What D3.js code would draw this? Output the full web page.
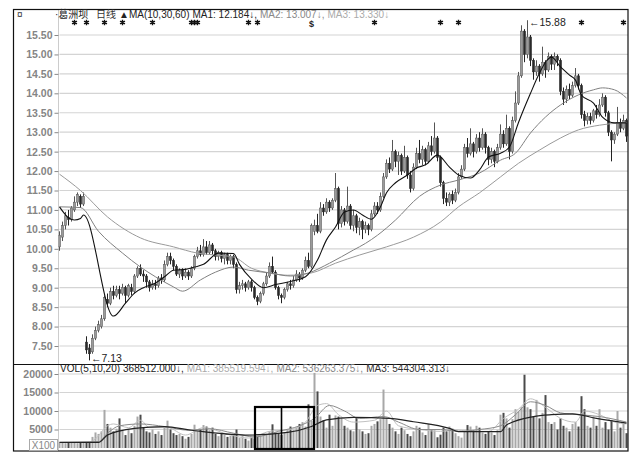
<!DOCTYPE html>
<html><head><meta charset="utf-8">
<script src="https://cdn.jsdelivr.net/npm/d3@7/dist/d3.min.js"></script>
<style>body{margin:0;background:#fff}</style>
</head><body>
<script>
// ---------- DATA ----------
const priceTicks = [7.5,8.0,8.5,9.0,9.5,10.0,10.5,11.0,11.5,12.0,12.5,13.0,13.5,14.0,14.5,15.0,15.5];
const volTicks = [5000,10000,15000,20000];
const priceHeader = ["·葛洲坝","日线","▲MA(10,30,60)","MA1: 12.184↓,","MA2: 13.007↓,","MA3: 13.330↓"];
const volHeader = ["VOL(5,10,20)","368512.000↓,","MA1: 385519.594↓,","MA2: 536263.375↓,","MA3: 544304.313↓"];
// candles: [open, close, high, low]
const candles = [
[10.05,10.35,10.45,9.95],[10.3,10.6,10.7,10.2],[10.6,10.85,10.95,10.5],[10.8,10.75,11.0,10.6],[10.75,11.05,11.1,10.7],
[11.0,11.2,11.35,10.95],[11.2,11.4,11.45,11.1],[11.35,11.15,11.4,11.05],[11.15,11.35,11.45,11.1],[7.6,7.4,7.75,7.3],
[7.45,7.3,7.55,7.13],[7.35,7.7,7.8,7.3],[7.7,7.9,8.0,7.65],[7.9,8.05,8.15,7.85],[8.0,8.2,8.3,7.95],
[8.2,8.75,8.8,8.15],[8.7,8.6,8.85,8.5],[8.6,8.9,9.0,8.55],[8.9,8.8,9.05,8.7],[8.8,8.95,9.05,8.75],
[8.95,8.85,9.05,8.7],[8.85,9.0,9.1,8.8],[9.0,8.8,9.05,8.6],[8.8,9.05,9.1,8.75],[9.0,8.9,9.1,8.8],
[8.9,9.3,9.35,8.85],[9.3,9.5,9.55,9.25],[9.5,9.35,9.6,9.3],[9.35,9.3,9.45,9.15],[9.3,9.15,9.35,9.0],
[9.15,9.0,9.2,8.9],[9.0,9.1,9.2,8.95],[9.1,9.05,9.2,8.95],[9.05,9.25,9.3,9.0],[9.25,9.2,9.35,9.1],
[9.2,9.6,9.7,9.15],[9.6,9.8,9.9,9.55],[9.8,9.7,9.9,9.6],[9.7,9.55,9.75,9.45],[9.55,9.35,9.6,9.3],
[9.35,9.45,9.5,9.25],[9.45,9.3,9.5,9.2],[9.3,9.4,9.5,9.25],[9.4,9.3,9.45,9.2],[9.3,9.5,9.55,9.25],
[9.5,9.8,9.85,9.45],[9.8,9.95,10.05,9.75],[9.95,9.85,10.1,9.8],[9.85,10.05,10.25,9.8],[10.05,9.9,10.2,9.85],
[9.9,10.1,10.2,9.85],[10.1,9.95,10.15,9.85],[9.95,9.8,10.0,9.7],[9.8,9.9,9.95,9.7],[9.9,9.75,9.95,9.65],
[9.75,9.85,9.9,9.6],[9.85,9.7,9.9,9.6],[9.7,9.8,9.85,9.6],[9.8,9.6,9.85,9.5],[9.6,8.95,9.65,8.85],
[8.95,9.05,9.15,8.85],[9.05,9.1,9.2,8.95],[9.1,9.0,9.15,8.9],[9.0,9.15,9.2,8.95],[9.15,9.0,9.2,8.9],
[9.0,8.75,9.05,8.7],[8.75,8.65,8.8,8.55],[8.65,8.85,8.9,8.6],[8.85,9.1,9.15,8.8],[9.1,9.3,9.4,9.05],
[9.3,9.55,9.65,9.25],[9.55,9.4,9.8,9.35],[9.4,9.0,9.45,8.95],[9.0,8.8,9.05,8.7],[8.8,8.75,8.85,8.6],
[8.75,8.95,9.0,8.7],[8.95,9.1,9.15,8.9],[9.1,9.05,9.2,8.95],[9.05,9.2,9.3,9.0],[9.2,9.35,9.45,9.15],
[9.35,9.25,9.4,9.15],[9.25,9.45,9.5,9.2],[9.45,9.7,9.8,9.4],[9.7,9.55,9.9,9.5],[9.55,10.6,10.65,9.5],
[10.45,10.6,10.75,10.35],[10.6,10.45,10.9,10.4],[10.45,11.05,11.2,10.4],[11.05,10.95,11.15,10.85],[10.95,11.2,11.3,10.9],
[11.2,11.05,11.25,10.95],[11.05,11.25,11.3,11.0],[11.25,11.55,11.95,11.2],[11.55,10.65,11.6,10.5],[10.65,11.0,11.1,10.55],
[11.0,10.7,11.05,10.6],[10.7,11.1,11.6,10.65],[11.1,10.6,11.15,10.5],[10.6,10.85,11.0,10.45],[10.85,10.55,10.9,10.4],
[10.55,10.7,10.8,10.35],[10.7,10.5,10.75,10.25],[10.5,10.6,10.7,10.4],[10.6,10.5,10.65,10.35],[10.5,10.9,11.0,10.45],
[10.9,11.1,11.2,10.85],[11.1,11.0,11.2,10.9],[11.0,11.35,11.45,10.95],[11.35,11.85,11.95,11.3],[11.85,12.2,12.3,11.8],
[12.2,12.05,12.35,11.95],[12.05,12.5,12.8,12.0],[12.5,12.25,12.55,12.1],[12.25,12.4,12.5,11.9],[12.4,12.0,12.45,11.9],
[12.0,12.35,12.65,11.95],[12.35,11.9,12.4,11.8],[11.9,11.55,12.0,11.45],[11.55,12.1,12.2,11.5],[12.1,12.45,12.6,12.05],
[12.45,12.3,12.8,12.2],[12.3,12.55,12.65,12.15],[12.55,12.25,12.6,12.15],[12.25,12.65,12.75,12.2],[12.65,12.5,12.9,12.4],
[12.5,12.85,13.25,12.45],[12.85,12.35,12.9,12.25],[12.35,11.7,12.4,11.6],[11.7,11.3,11.75,11.15],[11.3,11.2,11.45,11.1],
[11.2,11.4,11.45,11.1],[11.4,11.25,11.5,11.15],[11.25,11.45,11.55,11.2],[11.45,11.85,11.95,11.4],[11.85,12.05,12.15,11.8],
[12.05,12.6,12.7,12.0],[12.6,12.45,12.85,12.35],[12.45,12.7,13.1,12.4],[12.7,12.5,12.75,12.35],[12.5,12.85,12.95,12.45],
[12.85,12.6,13.0,12.5],[12.6,12.95,13.1,12.55],[12.95,12.6,13.0,12.45],[12.6,12.3,12.65,12.15],[12.3,12.5,12.6,12.2],
[12.5,12.25,12.55,12.1],[12.25,12.6,12.7,12.2],[12.6,12.95,13.2,12.55],[12.95,12.7,13.05,12.6],[12.7,13.1,13.45,12.65],
[13.1,12.5,13.15,12.3],[12.5,13.3,13.4,12.45],[13.3,13.75,14.05,13.25],[13.75,14.45,14.55,13.7],[14.45,15.6,15.75,14.4],
[15.6,15.0,15.65,14.8],[15.0,15.45,15.88,14.9],[15.45,14.85,15.5,14.7],[14.85,14.55,14.9,14.35],[14.55,14.7,14.85,14.45],
[14.7,14.5,14.75,14.3],[14.5,14.8,15.2,14.45],[14.8,14.6,14.85,14.4],[14.6,14.95,15.05,14.55],[14.95,14.75,15.0,14.6],
[14.75,14.95,15.05,14.6],[14.95,14.85,15.0,14.7],[14.85,14.05,14.9,13.95],[14.05,13.85,14.15,13.7],[13.85,14.1,14.2,13.75],
[14.1,13.95,14.25,13.85],[13.95,14.2,14.3,13.9],[14.2,14.45,14.65,14.15],[14.45,14.2,14.5,14.1],[14.2,13.45,14.25,13.35],
[13.45,13.3,13.55,13.15],[13.3,13.4,13.5,13.2],[13.4,13.3,13.5,13.2],[13.3,13.55,13.6,13.25],[13.55,13.45,13.7,13.35],
[13.45,13.7,13.85,13.4],[13.7,13.9,14.0,13.65],[13.9,13.5,13.95,13.4],[13.5,13.0,13.55,12.9],[13.0,12.8,13.05,12.25],
[12.8,12.95,13.0,12.7],[12.95,13.25,13.65,12.9],[13.25,13.1,13.35,13.0],[13.1,13.3,13.45,13.05],[13.3,12.9,13.35,12.75]
];
const volume = [
1400,1500,1300,1600,1400,1500,1300,1400,1500,1600,1500,3000,4200,3800,4500,10300,6500,5500,4500,5200,
8000,4800,3500,5000,4000,6000,8500,9000,5500,4500,4200,5000,3800,4500,3500,5500,7400,5000,4000,3500,
3800,3200,2500,3000,3800,6300,4500,5000,6200,5800,4800,5500,3800,3200,4000,3500,3000,3300,3800,5000,
2800,3200,2500,2000,2800,2600,3000,3400,4000,3800,4500,6400,4200,4000,3500,4200,5000,5800,4800,5500,
6500,7000,5800,11800,7300,20300,15300,8500,7500,5500,9000,6000,8800,8500,8200,6000,5500,4800,4500,8200,
5000,4500,3800,4000,6000,6500,7200,7800,15800,8000,6500,5500,4500,3800,5500,4800,3800,3200,4500,6000,
5500,4200,3500,6500,5000,4800,2900,3600,5500,4500,5800,5200,4000,3200,2800,4500,6200,5800,4800,6000,
5500,4200,3800,4500,4200,3500,4800,9000,9500,8000,5500,7800,10500,9800,11000,19800,11000,10500,8500,13000,
8000,9500,14300,7000,6500,7000,5000,8000,6000,5500,4500,6500,7000,5800,14000,10500,6000,5500,8500,6000,
10500,5500,7000,5000,7500,4500,10000,5500,6500,4000
];
// moving averages: [day index, value]
const ma10 = [[0,11.08],[3,10.8],[5,10.74],[7,10.78],[8,10.87],[18,8.27],[22,8.6],[25,8.86],[28,9.0],[32,9.12],[35,9.28],[38,9.45],[42,9.47],[45,9.53],[48,9.6],[53,9.89],[58,9.88],[60,9.6],[64,9.22],[68,9.0],[72,9.08],[77,9.16],[82,9.28],[86,9.71],[89,10.23],[92,10.56],[95,10.95],[98,11.0],[101,10.87],[104,10.76],[107,11.08],[109,11.44],[112,11.7],[116,11.9],[119,12.08],[122,12.16],[126,12.41],[130,12.1],[133,11.9],[137,11.82],[140,12.03],[143,12.36],[147,12.46],[150,12.62],[153,13.25],[157,14.0],[160,14.52],[162,14.8],[164,14.93],[167,14.68],[170,14.47],[172,14.34],[174,13.95],[178,13.75],[181,13.39],[185,13.24],[189,13.24]];
const ma30 = [[0,11.08],[7,11.06],[13,10.45],[21,9.89],[27,9.53],[32,9.28],[38,9.02],[41,8.91],[47,9.2],[52,9.4],[58,9.53],[63,9.45],[70,9.38],[77,9.3],[83,9.38],[90,9.63],[98,9.97],[102,10.14],[106,10.35],[112,10.74],[120,11.35],[127,11.64],[133,11.77],[140,11.95],[147,12.28],[152,12.46],[157,12.98],[162,13.39],[167,13.7],[173,13.96],[178,14.09],[181,14.14],[185,14.09],[189,13.88]];
const ma60 = [[0,11.92],[7,11.5],[16,10.82],[27,10.28],[38,10.05],[46,9.89],[52,9.84],[58,9.79],[64,9.5],[70,9.38],[76,9.32],[84,9.38],[92,9.63],[100,9.84],[109,10.05],[118,10.3],[127,10.69],[133,11.08],[140,11.44],[147,11.85],[153,12.2],[160,12.54],[167,12.85],[173,13.06],[180,13.18],[187,13.24],[189,13.25]];
const volMa5 = [[0,1500],[10,1600],[12,2500],[16,6000],[18,6500],[23,5500],[27,7500],[30,5500],[36,5500],[42,3500],[48,5500],[57,3500],[63,2700],[70,4500],[77,5000],[82,7000],[86,11500],[89,12000],[93,9000],[98,7000],[105,7500],[109,10000],[113,6000],[120,5000],[127,4500],[131,5000],[137,4500],[143,4500],[148,8000],[153,10500],[157,13300],[162,11000],[167,8000],[172,7000],[175,10000],[180,9000],[185,7000],[189,6500]];
const volMa10 = [[0,1500],[13,1700],[16,4000],[20,6000],[27,6500],[35,5800],[43,4800],[50,5200],[58,4000],[65,3000],[73,4500],[80,6000],[85,8000],[90,11500],[95,10000],[100,8000],[108,8500],[113,7000],[120,5000],[127,5000],[133,4500],[140,5000],[147,6000],[152,9000],[157,12500],[162,11500],[167,9500],[173,9000],[180,8500],[189,7000]];
const volMa20 = [[0,1500],[13,1500],[16,3500],[25,5300],[35,5800],[44,4800],[62,3500],[76,4200],[84,5800],[89,7600],[98,8300],[110,8000],[118,7100],[130,5300],[133,4400],[147,4400],[149,6200],[158,8500],[164,9000],[171,9200],[179,8000],[189,6700]];
const starDays = [5,9,15,21,31,44,45,46,63,66,105,127,133,174,188];
const dollarDays = [84];
const highLabel = "←15.88", lowLabel = "←7.13";
const highDay = 156, lowDay = 10;

// ---------- DRAW ----------
const W = 640, H = 461;
const FONT = "'Liberation Sans','Noto Sans CJK SC',sans-serif";
const svg = d3.select("body").append("svg").attr("width", W).attr("height", H)
  .style("font-family", FONT);
svg.append("rect").attr("width", W).attr("height", H).attr("fill", "#fff");

const L = 58.5, R = 628, T = 9.5, SEP = 364.5, B = 451;
const x = d3.scaleLinear().domain([0, candles.length - 1]).range([59.5, 626.5]);
const y = d3.scaleLinear().domain([7.5, 15.5]).range([346, 35]);
const yv = d3.scaleLinear().domain([0, 20000]).range([448, 374]);

const defs = svg.append("defs");
defs.append("clipPath").attr("id", "cp")
  .append("rect").attr("x", L).attr("y", T).attr("width", R - L).attr("height", SEP - T);
defs.append("clipPath").attr("id", "cv")
  .append("rect").attr("x", L).attr("y", SEP).attr("width", R - L).attr("height", B - SEP);

// grid lines
svg.append("g").selectAll("line").data(priceTicks).join("line")
  .attr("x1", L + 1).attr("x2", R).attr("y1", d => y(d)).attr("y2", d => y(d))
  .attr("stroke", "#d4d4d4").attr("stroke-width", 1.2);
svg.append("g").selectAll("line").data(volTicks).join("line")
  .attr("x1", L + 1).attr("x2", R).attr("y1", d => yv(d)).attr("y2", d => yv(d))
  .attr("stroke", "#d4d4d4").attr("stroke-width", 1.2);

// axes
const yAxis = d3.axisLeft(y).tickValues(priceTicks).tickFormat(d3.format(".2f")).tickSize(4).tickPadding(2);
const gy = svg.append("g").attr("transform", `translate(${L},0)`).call(yAxis);
const vAxis = d3.axisLeft(yv).tickValues(volTicks).tickFormat(d3.format("d")).tickSize(4).tickPadding(2);
const gv = svg.append("g").attr("transform", `translate(${L},0)`).call(vAxis);
[gy, gv].forEach(g => {
  g.select(".domain").remove();
  g.selectAll(".tick line").attr("stroke", "#888");
  g.selectAll(".tick text").attr("fill", "#858585").attr("font-size", 10.5)
    .attr("font-weight", "bold").attr("font-family", "'Liberation Sans',sans-serif");
});
svg.append("line").attr("x1", L).attr("x2", L).attr("y1", T).attr("y2", B)
  .attr("stroke", "#999").attr("stroke-dasharray", "1,1");

// candles
const gc = svg.append("g").attr("clip-path", "url(#cp)");
gc.selectAll("line.w").data(candles).join("line")
  .attr("x1", (d, i) => x(i)).attr("x2", (d, i) => x(i))
  .attr("y1", d => y(d[2])).attr("y2", d => y(d[3]))
  .attr("stroke", d => d[1] >= d[0] ? "#555" : "#222").attr("stroke-width", 1);
gc.selectAll("rect").data(candles).join("rect")
  .attr("x", (d, i) => x(i) - 1.1).attr("width", 2.2)
  .attr("y", d => y(Math.max(d[0], d[1])))
  .attr("height", d => Math.max(1, Math.abs(y(d[0]) - y(d[1]))))
  .attr("fill", d => d[1] >= d[0] ? "#9a9a9a" : "#2a2a2a")
  .attr("stroke", d => d[1] >= d[0] ? "#555" : "#2a2a2a").attr("stroke-width", 0.5);

// price MAs
const lineP = d3.line().x(d => x(d[0])).y(d => y(d[1])).curve(d3.curveMonotoneX);
const gm = svg.append("g").attr("clip-path", "url(#cp)").attr("fill", "none");
gm.append("path").attr("d", lineP(ma60)).attr("stroke", "#9a9a9a").attr("stroke-width", 1);
gm.append("path").attr("d", lineP(ma30)).attr("stroke", "#808080").attr("stroke-width", 1);
gm.append("path").attr("d", lineP(ma10)).attr("stroke", "#111").attr("stroke-width", 1.1);

// volume bars
const gvb = svg.append("g").attr("clip-path", "url(#cv)");
gvb.selectAll("rect").data(volume).join("rect")
  .attr("x", (d, i) => x(i) - 1).attr("width", 2)
  .attr("y", d => yv(d)).attr("height", d => yv(0) - yv(d))
  .attr("fill", (d, i) => candles[i][1] >= candles[i][0] ? "#a8a8a8" : "#4a4a4a");
const lineV = d3.line().x(d => x(d[0])).y(d => yv(d[1])).curve(d3.curveMonotoneX);
const gvm = svg.append("g").attr("clip-path", "url(#cv)").attr("fill", "none");
gvm.append("path").attr("d", lineV(volMa5)).attr("stroke", "#c0c0c0").attr("stroke-width", 1);
gvm.append("path").attr("d", lineV(volMa10)).attr("stroke", "#8a8a8a").attr("stroke-width", 1);
gvm.append("path").attr("d", lineV(volMa20)).attr("stroke", "#222").attr("stroke-width", 1.2);

// highlight box in volume panel
svg.append("rect").attr("x", 255).attr("y", 407).attr("width", 59).attr("height", 42)
  .attr("fill", "none").attr("stroke", "#000").attr("stroke-width", 2.2);
svg.append("line").attr("x1", 281.5).attr("x2", 281.5).attr("y1", 407).attr("y2", 449)
  .attr("stroke", "#000").attr("stroke-width", 1.6);

// frame
svg.append("rect").attr("x", 13.5).attr("y", T).attr("width", R - 13.5).attr("height", B - T)
  .attr("fill", "none").attr("stroke", "#111").attr("stroke-width", 1.2);
svg.append("line").attr("x1", 13.5).attr("x2", R).attr("y1", SEP).attr("y2", SEP)
  .attr("stroke", "#111").attr("stroke-width", 1.2);

// X100 box
svg.append("rect").attr("x", 29.5).attr("y", 439.5).attr("width", 28).attr("height", 11)
  .attr("fill", "#fff").attr("stroke", "#aaa");
svg.append("text").attr("x", 43.5).attr("y", 449).attr("text-anchor", "middle")
  .attr("font-size", 10).attr("fill", "#888").text("X100");

// header texts: laid out left to right, never overlapping
svg.append("text").attr("x", 17).attr("y", 18).attr("font-size", 10).attr("fill", "#333").text("¤");
function headerRow(texts, xs, colors, yy, size) {
  let end = 0;
  texts.forEach((t, i) => {
    const xx = Math.max(xs[i], end + 3);
    const el = svg.append("text").attr("x", xx).attr("y", yy).attr("font-size", size)
      .attr("font-family", "'Liberation Sans Narrow','Liberation Sans','Noto Sans CJK SC',sans-serif")
      .attr("fill", colors[i]).text(t);
    end = xx + el.node().getComputedTextLength();
  });
}
headerRow(priceHeader, [55, 96, 117, 183, 243, 305], ["#222", "#333", "#222", "#222", "#888", "#aaa"], 18, 10);
headerRow(volHeader, [60, 117, 163, 237, 325], ["#222", "#222", "#aaa", "#888", "#333"], 372, 10);

// markers (symbols)
const star = d3.symbol().type(d3.symbolAsterisk).size(22);
svg.append("g").selectAll("path").data(starDays).join("path")
  .attr("transform", d => `translate(${x(d)},22.5)`).attr("d", star)
  .attr("fill", "none").attr("stroke", "#111").attr("stroke-width", 1.4);
svg.append("g").selectAll("text").data(dollarDays).join("text")
  .attr("x", d => x(d)).attr("y", 27).attr("text-anchor", "middle")
  .attr("font-size", 9).attr("font-weight", "bold").attr("fill", "#222").text("$");

// extreme labels
svg.append("text").attr("x", x(highDay) + 1.5).attr("y", y(candles[highDay][2]) + 6)
  .attr("font-size", 10.5).attr("fill", "#222").text(highLabel);
svg.append("text").attr("x", x(lowDay) + 1.5).attr("y", Math.min(362, y(candles[lowDay][3]) + 2))
  .attr("font-size", 10.5).attr("fill", "#222").text(lowLabel);
</script>
</body></html>
